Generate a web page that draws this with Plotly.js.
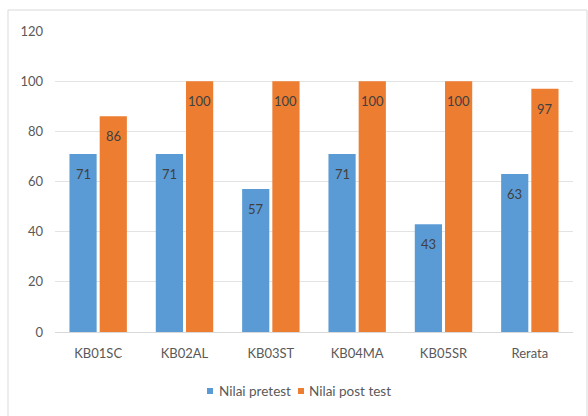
<!DOCTYPE html>
<html>
<head>
<meta charset="utf-8">
<script src="https://cdn.plot.ly/plotly-3.0.1.min.js"></script>
<style>html,body{margin:0;padding:0;background:#fff;}#chart{width:588px;height:416px;}</style>
</head>
<body>
<div id="chart"></div>
<script>
const categories = ["KB01SC", "KB02AL", "KB03ST", "KB04MA", "KB05SR", "Rerata"];
const pretest = [71, 71, 57, 71, 43, 63];
const posttest = [86, 100, 100, 100, 100, 97];
const seriesNames = ["Nilai pretest", "Nilai post test"];
const yTicks = [0, 20, 40, 60, 80, 100, 120];

const font = "Lato, 'Open Sans', sans-serif";
const labelColor = "#404040";
const colors = ["#5B9BD5", "#ED7D31"];
const series = [pretest, posttest];

const traces = series.map((vals, s) => ({
  type: "bar", name: seriesNames[s], x: categories, y: vals,
  marker: {color: colors[s]}, hoverinfo: "none", showlegend: false
}));

// data labels inside bars, below the top
const annotations = [];
series.forEach((vals, s) => {
  vals.forEach((v, i) => {
    annotations.push({x: categories[i], y: v, xref: "x", yref: "y", text: String(v),
      showarrow: false, xshift: s === 0 ? -15 : 15, yshift: -20, yanchor: "middle",
      font: {family: font, size: 13, color: labelColor}});
  });
});

// legend drawn manually (small squares, tight spacing)
const legendItems = [{x0: 207, tx: 217}, {x0: 298, tx: 307}];
const shapes = [{type: "rect", xref: "paper", yref: "paper",
  x0: (8 - 55) / 518, x1: (587 - 55) / 518, y0: -0.35, y1: 1 + (31 - 10) / 301,
  line: {color: "#d9d9d9", width: 1}, fillcolor: "rgba(0,0,0,0)", layer: "below"}];
const px = x => (x - 55) / 518;
const py = y => (332 - y) / 301;
legendItems.forEach((it, s) => {
  shapes.push({type: "rect", xref: "paper", yref: "paper",
    x0: px(it.x0), x1: px(it.x0 + 6), y0: py(394), y1: py(388),
    line: {width: 0}, fillcolor: colors[s]});
  annotations.push({xref: "paper", yref: "paper", x: px(it.tx), y: py(391),
    xanchor: "left", yanchor: "middle", showarrow: false, text: seriesNames[s],
    font: {family: font, size: 13.5, color: "#595959"}});
});

const layout = {
  width: 588, height: 416,
  margin: {l: 55, r: 15, t: 31, b: 84},
  paper_bgcolor: "#fff", plot_bgcolor: "#fff",
  font: {family: font, size: 13, color: "#595959"},
  barmode: "group", bargap: 0.3, bargroupgap: 0.1,
  showlegend: false,
  xaxis: {type: "category", showgrid: false, showline: true, linecolor: "#d9d9d9", linewidth: 1,
          ticks: "", ticklabelstandoff: 9, tickfont: {family: font, size: 13, color: "#595959"}, fixedrange: true},
  yaxis: {range: [0, 120], tickvals: yTicks, ticktext: yTicks.map(String), showgrid: true,
          gridcolor: "#e3e3e3", zeroline: false, showline: false, ticks: "",
          ticklabelstandoff: 11, tickfont: {family: font, size: 13, color: "#595959"}, fixedrange: true},
  annotations: annotations,
  shapes: shapes
};

Plotly.newPlot("chart", traces, layout, {displayModeBar: false, staticPlot: true});
</script>
</body>
</html>
